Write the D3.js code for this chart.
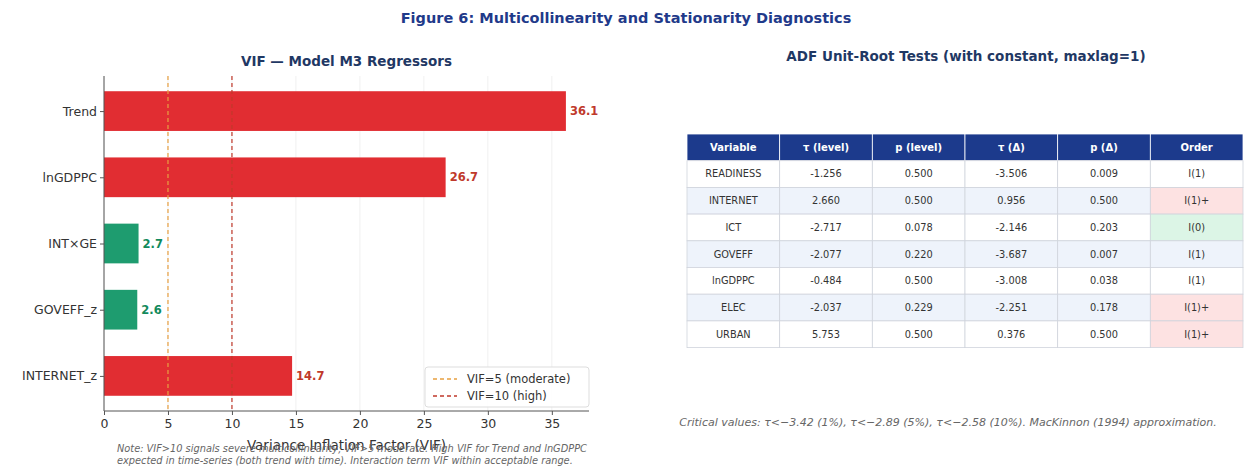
<!DOCTYPE html>
<html>
<head>
<meta charset="utf-8">
<script src="https://cdn.jsdelivr.net/npm/d3@7"></script>
<style>
  html, body { margin: 0; padding: 0; background: #fff; }
  svg { display: block; font-family: "DejaVu Sans", sans-serif; }
</style>
</head>
<body>
<svg id="chart" width="1248" height="472"></svg>
<script>
// ---------- data ----------
const vifVars = ["Trend", "lnGDPPC", "INT×GE", "GOVEFF_z", "INTERNET_z"];
const vifValues = [36.1, 26.7, 2.7, 2.6, 14.7];
const vifTicks = [0, 5, 10, 15, 20, 25, 30, 35];
const vifThresholds = [5, 10];
const vifThresholdLabels = ["VIF=5 (moderate)", "VIF=10 (high)"];

const adfHeaders = ["Variable", "τ (level)", "p (level)", "τ (Δ)", "p (Δ)", "Order"];
const adfVars = ["READINESS", "INTERNET", "ICT", "GOVEFF", "lnGDPPC", "ELEC", "URBAN"];
const adfTauLevel = [-1.256, 2.660, -2.717, -2.077, -0.484, -2.037, 5.753];
const adfPLevel = [0.500, 0.500, 0.078, 0.220, 0.500, 0.229, 0.500];
const adfTauDiff = [-3.506, 0.956, -2.146, -3.687, -3.008, -2.251, 0.376];
const adfPDiff = [0.009, 0.500, 0.203, 0.007, 0.038, 0.178, 0.500];
const adfOrder = ["I(1)", "I(1)+", "I(0)", "I(1)", "I(1)", "I(1)+", "I(1)+"];

const figTitle = "Figure 6: Multicollinearity and Stationarity Diagnostics";
const vifTitle = "VIF — Model M3 Regressors";
const adfTitle = "ADF Unit-Root Tests (with constant, maxlag=1)";
const vifXLabel = "Variance Inflation Factor (VIF)";
const vifNote = ["Note: VIF>10 signals severe multicollinearity; VIF>5 moderate. High VIF for Trend and lnGDPPC",
                 "expected in time-series (both trend with time). Interaction term VIF within acceptable range."];
const adfNote = "Critical values: τ<−3.42 (1%), τ<−2.89 (5%), τ<−2.58 (10%). MacKinnon (1994) approximation.";

// ---------- styles ----------
const navy = "#1f3a8a";
const red = "#e0262b", redText = "#c0392b";
const green = "#17996a", greenText = "#128a5c";

const svg = d3.select("#chart");

svg.append("text").attr("x", 626).attr("y", 23).attr("text-anchor", "middle")
  .attr("font-size", 14.5).attr("font-weight", "bold").attr("fill", navy).text(figTitle);

// ---------- VIF panel ----------
const L = {left: 104, right: 589, top: 76, bottom: 411};
const x = d3.scaleLinear().domain([0, d3.max(vifValues) * 1.05]).range([L.left, L.right]);
const y = d3.scaleLinear().domain([-0.53, vifVars.length - 1 + 0.53]).range([L.top, L.bottom]);
const barH = (y(0.3) - y(-0.3));

const gL = svg.append("g");
gL.selectAll("line.grid").data(vifTicks).enter().append("line")
  .attr("x1", d => x(d)).attr("x2", d => x(d)).attr("y1", L.top).attr("y2", L.bottom)
  .attr("stroke", "#ececec").attr("stroke-width", 0.8);

gL.selectAll("rect.bar").data(vifValues).enter().append("rect")
  .attr("x", x(0)).attr("y", (d, i) => y(i) - barH / 2)
  .attr("width", d => x(d) - x(0)).attr("height", barH)
  .attr("fill", d => d > 10 ? red : green).attr("opacity", 0.97);

gL.selectAll("line.thr").data(vifThresholds).enter().append("line")
  .attr("x1", d => x(d)).attr("x2", d => x(d)).attr("y1", L.top).attr("y2", L.bottom)
  .attr("stroke", (d, i) => i === 0 ? "#e8a040" : "#c0392b")
  .attr("stroke-width", 1.2).attr("stroke-dasharray", "4,3");

gL.selectAll("text.val").data(vifValues).enter().append("text")
  .attr("x", d => x(d) + 4).attr("y", (d, i) => y(i)).attr("dy", "0.35em")
  .attr("font-size", 11.5).attr("font-weight", "bold")
  .attr("fill", d => d > 10 ? redText : greenText)
  .text(d => d.toFixed(1));

const xAxis = d3.axisBottom(x).tickValues(vifTicks).tickSize(4).tickPadding(4);
const gx = gL.append("g").attr("transform", `translate(0,${L.bottom})`).call(xAxis);
gx.select(".domain").attr("stroke", "#555").attr("d", `M${L.left},0H${L.right}`);
gx.selectAll(".tick line").attr("stroke", "#555");
gx.selectAll(".tick text").attr("font-size", 12.5).attr("fill", "#333").attr("font-family", "DejaVu Sans");

const yAxis = d3.axisLeft(y).tickValues(d3.range(vifVars.length)).tickFormat(i => vifVars[i]).tickSize(4).tickPadding(3);
const gy = gL.append("g").attr("transform", `translate(${L.left},0)`).call(yAxis);
gy.select(".domain").attr("stroke", "#555").attr("d", `M0,${L.top}V${L.bottom}`);
gy.selectAll(".tick line").attr("stroke", "#555");
gy.selectAll(".tick text").attr("font-size", 12.5).attr("fill", "#333").attr("font-family", "DejaVu Sans")
  .attr("textLength", function() { return null; });

gL.append("text").attr("x", (L.left + L.right) / 2).attr("y", 66).attr("text-anchor", "middle")
  .attr("font-size", 13.5).attr("font-weight", "bold").attr("fill", "#1f3864").text(vifTitle);

gL.append("text").attr("x", (L.left + L.right) / 2).attr("y", 450).attr("text-anchor", "middle")
  .attr("font-size", 13.5).attr("fill", "#333").text(vifXLabel);

// legend
const lg = gL.append("g").attr("transform", "translate(425,367)");
lg.append("rect").attr("width", 164).attr("height", 40).attr("rx", 3)
  .attr("fill", "#fff").attr("fill-opacity", 0.85).attr("stroke", "#ddd");
vifThresholdLabels.forEach((t, i) => {
  const yy = 12 + i * 17;
  lg.append("line").attr("x1", 8).attr("x2", 32).attr("y1", yy).attr("y2", yy)
    .attr("stroke", i === 0 ? "#e8a040" : "#c0392b").attr("stroke-width", 1.3).attr("stroke-dasharray", "4,3");
  lg.append("text").attr("x", 42).attr("y", yy).attr("dy", "0.35em")
    .attr("font-size", 11.5).attr("fill", "#333").text(t);
});

vifNote.forEach((t, i) => {
  svg.append("text").attr("x", 117).attr("y", 452 + i * 11.5)
    .attr("font-size", 9.8).attr("font-style", "italic").attr("fill", "#666").text(t);
});

// ---------- ADF table ----------
svg.append("text").attr("x", 966).attr("y", 61).attr("text-anchor", "middle")
  .attr("font-size", 13.5).attr("font-weight", "bold").attr("fill", "#1f3864").text(adfTitle);

const T = {left: 687, right: 1243, top: 134, rowH: 26.7};
const col = d3.scaleBand().domain(d3.range(adfHeaders.length)).range([T.left, T.right]);
const rowsData = adfVars.map((v, i) => [v, adfTauLevel[i].toFixed(3), adfPLevel[i].toFixed(3),
  adfTauDiff[i].toFixed(3), adfPDiff[i].toFixed(3), adfOrder[i]]);
const row = d3.scaleLinear().domain([0, adfVars.length + 1]).range([T.top, T.top + T.rowH * (adfVars.length + 1)]);

const gT = svg.append("g");
adfHeaders.forEach((h, j) => {
  gT.append("rect").attr("x", col(j)).attr("y", row(0)).attr("width", col.bandwidth()).attr("height", T.rowH)
    .attr("fill", "#1c3a8c").attr("stroke", "#ffffff").attr("stroke-width", 0.8);
  gT.append("text").attr("x", col(j) + col.bandwidth() / 2).attr("y", row(0) + T.rowH / 2).attr("dy", "0.35em")
    .attr("text-anchor", "middle").attr("font-size", 10).attr("font-weight", "bold").attr("fill", "#fff").text(h);
});
rowsData.forEach((r, i) => {
  const base = i % 2 === 1 ? "#eef3fb" : "#ffffff";
  r.forEach((c, j) => {
    let fill = base;
    if (j === 5) {
      if (c === "I(1)+") fill = "#fde2e2";
      else if (c === "I(0)") fill = "#dcf5e6";
    }
    gT.append("rect").attr("x", col(j)).attr("y", row(i + 1)).attr("width", col.bandwidth()).attr("height", T.rowH)
      .attr("fill", fill).attr("stroke", "#d0d4dc").attr("stroke-width", 0.8);
    gT.append("text").attr("x", col(j) + col.bandwidth() / 2).attr("y", row(i + 1) + T.rowH / 2).attr("dy", "0.35em")
      .attr("text-anchor", "middle").attr("font-size", 9.8).attr("fill", "#333").text(c);
  });
});

svg.append("text").attr("x", 948).attr("y", 426).attr("text-anchor", "middle")
  .attr("font-size", 11).attr("font-style", "italic").attr("fill", "#666").text(adfNote);
</script>
</body>
</html>
